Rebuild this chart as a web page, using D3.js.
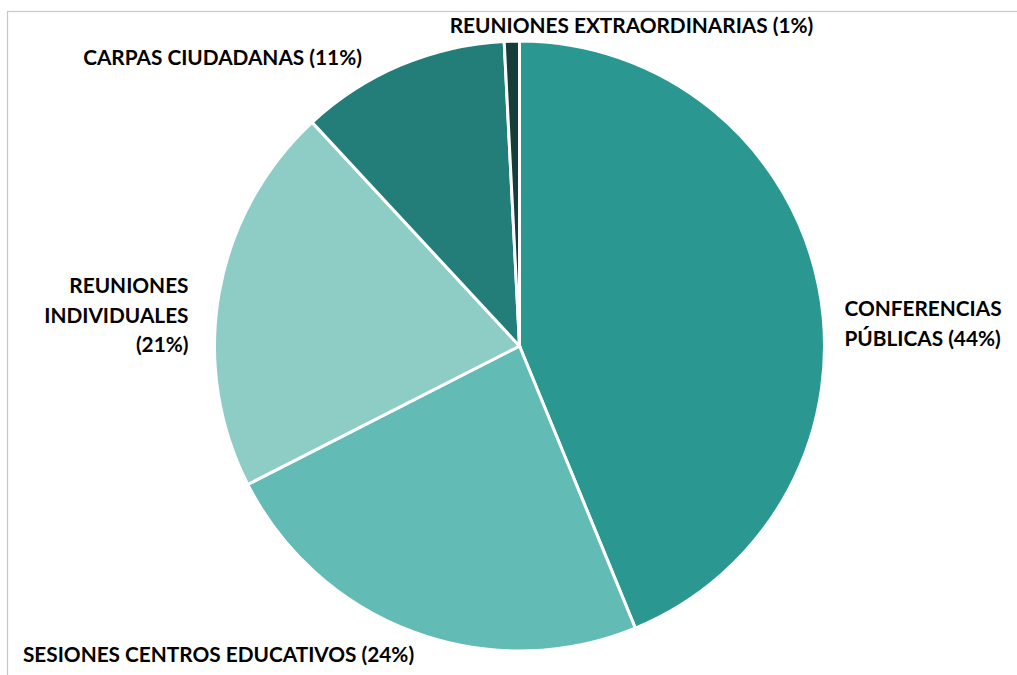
<!DOCTYPE html>
<html>
<head>
<meta charset="utf-8">
<script src="https://cdn.jsdelivr.net/npm/d3@7"></script>
<style>
  body { margin: 0; background: #fff; }
  svg text { font-family: Lato, "Open Sans", sans-serif; font-weight: bold; fill: #000; }
</style>
</head>
<body>
<script>
// slice data, clockwise from 12 o'clock
var categories = ["CONFERENCIAS PÚBLICAS", "SESIONES CENTROS EDUCATIVOS", "REUNIONES INDIVIDUALES", "CARPAS CIUDADANAS", "REUNIONES EXTRAORDINARIAS"];
var values = [43.8, 23.7, 20.6, 11.1, 0.8];
var pctLabels = ["44%", "24%", "21%", "11%", "1%"];
var colors = ["#2A9891", "#62BCB5", "#8ECCC6", "#237E7A", "#163D3A"];

// label lines and placement (offset from pie centre, anchor)
var labelLines = [
  ["CONFERENCIAS", "PÚBLICAS (44%)"],
  ["SESIONES CENTROS EDUCATIVOS (24%)"],
  ["REUNIONES", "INDIVIDUALES", "(21%)"],
  ["CARPAS CIUDADANAS (11%)"],
  ["REUNIONES EXTRAORDINARIAS (1%)"]
];
var labelPos = [
  {dx: 325, dy: -30, anchor: "start"},
  {dx: -301, dy: 316, anchor: "middle"},
  {dx: -331, dy: -53, anchor: "end"},
  {dx: -297, dy: -281, anchor: "middle"},
  {dx: 112, dy: -313, anchor: "middle"}
];

var W = 1017, H = 675;
var cx = 519.5, cy = 346, R = 305;

var svg = d3.select("body").append("svg")
    .attr("width", W)
    .attr("height", H);

// chart frame (clipped by window on right/bottom)
svg.append("rect")
    .attr("x", 7.5).attr("y", 11.5)
    .attr("width", W + 20).attr("height", H + 20)
    .style("fill", "none")
    .style("stroke", "#c8c8c8")
    .style("stroke-width", 1.2);

var pie = d3.pie().sort(null).value(function(d){ return d; });
var arc = d3.arc().innerRadius(0).outerRadius(R);

var g = svg.append("g").attr("transform", "translate(" + cx + "," + cy + ")");

g.selectAll("path.slice")
    .data(pie(values))
    .enter().append("path")
    .attr("class", "slice")
    .attr("d", arc)
    .style("fill", function(d, i){ return colors[i]; })
    .style("stroke", "#fff")
    .style("stroke-width", 3)
    .style("stroke-linejoin", "miter");

var lineH = 29.5;
var lbl = g.selectAll("text.lbl")
    .data(categories)
    .enter().append("text")
    .attr("class", "lbl")
    .attr("x", function(d, i){ return labelPos[i].dx; })
    .attr("y", function(d, i){ return labelPos[i].dy; })
    .attr("text-anchor", function(d, i){ return labelPos[i].anchor; })
    .style("font-size", "20.8px");

lbl.each(function(d, i){
    var t = d3.select(this);
    labelLines[i].forEach(function(line, k){
        t.append("tspan")
            .attr("x", labelPos[i].dx)
            .attr("dy", k == 0 ? 0 : lineH)
            .text(line);
    });
});
</script>
</body>
</html>
